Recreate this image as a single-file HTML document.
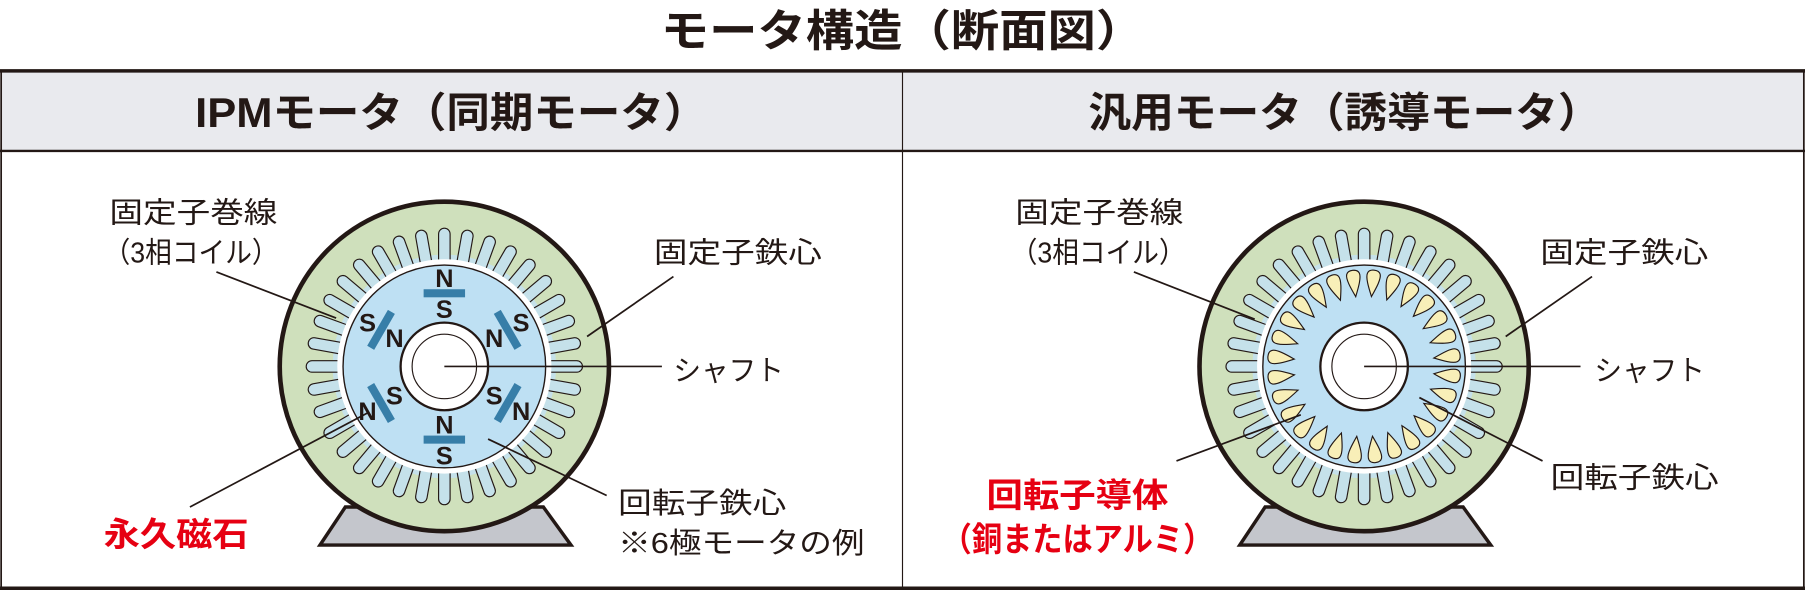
<!DOCTYPE html>
<html><head><meta charset="utf-8"><style>
html,body{margin:0;padding:0;background:#fff;width:1805px;height:590px;overflow:hidden}
svg{display:block}
text{font-family:"Liberation Sans","Noto Sans CJK JP",sans-serif;fill:#231815}
</style></head><body>
<svg id="s" width="1805" height="590" viewBox="0 0 1568 512" preserveAspectRatio="none" xmlns="http://www.w3.org/2000/svg">
<text x="784" y="40" text-anchor="middle" font-size="38" font-weight="bold" textLength="420" lengthAdjust="spacingAndGlyphs">モータ構造（断面図）</text>
<rect x="1" y="61" width="1566" height="70" fill="#e9eaee"/>
<line x1="0" y1="61.5" x2="1568" y2="61.5" stroke="#231815" stroke-width="3"/>
<line x1="0" y1="131" x2="1568" y2="131" stroke="#231815" stroke-width="2"/>
<line x1="0" y1="510.5" x2="1568" y2="510.5" stroke="#231815" stroke-width="3"/>
<line x1="1" y1="61" x2="1" y2="512" stroke="#231815" stroke-width="1.5"/>
<line x1="1567" y1="61" x2="1567" y2="512" stroke="#231815" stroke-width="1.5"/>
<line x1="784" y1="61" x2="784" y2="512" stroke="#231815" stroke-width="1"/>
<text x="392" y="110" text-anchor="middle" font-size="36" font-weight="bold" textLength="445" lengthAdjust="spacingAndGlyphs">IPMモータ（同期モータ）</text>
<text x="1168" y="110" text-anchor="middle" font-size="36" font-weight="bold" textLength="445" lengthAdjust="spacingAndGlyphs">汎用モータ（誘導モータ）</text>
<g id="m1"></g><g id="m2"></g>
<g font-size="25">
<text x="95" y="193" textLength="146" lengthAdjust="spacingAndGlyphs">固定子巻線</text>
<text x="90" y="228" textLength="152" lengthAdjust="spacingAndGlyphs">（3相コイル）</text>
<text x="568" y="228" textLength="146" lengthAdjust="spacingAndGlyphs">固定子鉄心</text>
<text x="585" y="330" textLength="96" lengthAdjust="spacingAndGlyphs">シャフト</text>
<text x="537" y="445" textLength="146" lengthAdjust="spacingAndGlyphs">回転子鉄心</text>
<text x="537" y="480" textLength="214" lengthAdjust="spacingAndGlyphs">※6極モータの例</text>
<text x="882" y="193" textLength="146" lengthAdjust="spacingAndGlyphs">固定子巻線</text>
<text x="878" y="228" textLength="152" lengthAdjust="spacingAndGlyphs">（3相コイル）</text>
<text x="1338" y="228" textLength="146" lengthAdjust="spacingAndGlyphs">固定子鉄心</text>
<text x="1385" y="330" textLength="96" lengthAdjust="spacingAndGlyphs">シャフト</text>
<text x="1347" y="423" textLength="146" lengthAdjust="spacingAndGlyphs">回転子鉄心</text>
</g>
<g font-size="29" font-weight="bold">
<text x="90" y="474" style="fill:#e60012" textLength="126" lengthAdjust="spacingAndGlyphs">永久磁石</text>
<text x="857" y="440" style="fill:#e60012" textLength="158" lengthAdjust="spacingAndGlyphs">回転子導体</text>
<text x="818" y="478" style="fill:#e60012" textLength="236" lengthAdjust="spacingAndGlyphs">（銅またはアルミ）</text>
</g>
<g stroke="#231815" stroke-width="1.5" fill="none">
<line x1="188" y1="236" x2="292" y2="276"/>
<line x1="585" y1="240" x2="510" y2="292"/>
<line x1="386" y1="318" x2="575" y2="318"/>
<line x1="527" y1="430" x2="424" y2="381"/>
<line x1="165" y1="440" x2="320" y2="358"/>
<line x1="985" y1="236" x2="1090" y2="277"/>
<line x1="1383" y1="240" x2="1308" y2="292"/>
<line x1="1185" y1="318" x2="1373" y2="318"/>
<line x1="1340" y1="400" x2="1233" y2="345"/>
<line x1="1022" y1="400" x2="1130" y2="360"/>
</g>
</svg>
<script>
var NS="http://www.w3.org/2000/svg";
function el(p,t,a){var e=document.createElementNS(NS,t);for(var k in a)e.setAttribute(k,a[k]);p.appendChild(e);return e;}
function motor(g,cx,cy,ipm){
  el(g,"polygon",{points:(cx-86)+",440 "+(cx+86)+",440 "+(cx+110)+",473 "+(cx-108)+",473",fill:"#c4c6cc",stroke:"#231815","stroke-width":3});
  el(g,"circle",{cx:cx,cy:cy,r:143,fill:"#cfe0bc",stroke:"#231815","stroke-width":4});
  el(g,"circle",{cx:cx,cy:cy,r:97,fill:"#c5e1ea"});
  var n=36;
  for(var i=0;i<n;i++){var a=i*360/n;
    var gg=el(g,"g",{transform:"translate("+cx+","+cy+") rotate("+a+")"});
    el(gg,"rect",{x:-5,y:-120,width:10,height:32,rx:5,fill:"#c5e1ea",stroke:"#231815","stroke-width":1});
  }
  el(g,"circle",{cx:cx,cy:cy,r:93,fill:"#fff"});
  el(g,"circle",{cx:cx,cy:cy,r:88,fill:"#bee0f3",stroke:"#231815","stroke-width":1.2});
  if(ipm){
    for(var j=0;j<6;j++){var a=j*60;var rad=a*Math.PI/180;
      var gg=el(g,"g",{transform:"translate("+cx+","+cy+") rotate("+a+")"});
      el(gg,"rect",{x:-18,y:-67,width:36,height:7,fill:"#377ea8"});
      var out=(j%2==0)?"N":"S",inn=(j%2==0)?"S":"N";
      [[out,77],[inn,50]].forEach(function(q){
        var d=q[1]; var tx=cx+Math.sin(rad)*d, ty=cy-Math.cos(rad)*d;
        var t=el(g,"text",{x:tx,y:ty+8,"text-anchor":"middle","font-size":22,"font-weight":"bold"});
        t.textContent=q[0];
      });
    }
  } else {
    var m=28;
    for(var k=0;k<m;k++){var a=k*360/m+6;
      var gg=el(g,"g",{transform:"translate("+cx+","+cy+") rotate("+a+")"});
      el(gg,"path",{d:"M0,-61 C3,-68 7,-77 5.5,-81 C4,-85 -4,-85 -5.5,-81 C-7,-77 -3,-68 0,-61Z",fill:"#f8efb8",stroke:"#231815","stroke-width":1});
    }
  }
  el(g,"circle",{cx:cx,cy:cy,r:38,fill:"#fff",stroke:"#231815","stroke-width":2});
  el(g,"circle",{cx:cx,cy:cy,r:28,fill:"#fff",stroke:"#231815","stroke-width":1});
}
motor(document.getElementById("m1"),386,318,true);
motor(document.getElementById("m2"),1185,318,false);
</script>
</body></html>
